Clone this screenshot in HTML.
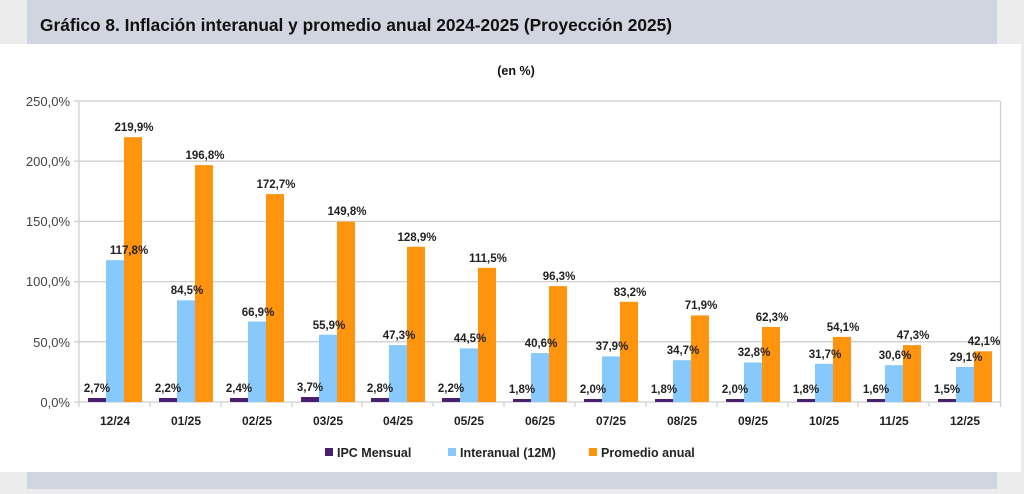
<!DOCTYPE html>
<html><head><meta charset="utf-8"><style>
html,body{margin:0;padding:0;background:#ececec;}
body{width:1024px;height:489px;position:relative;overflow:hidden;font-family:"Liberation Sans",Arial,sans-serif;}
</style></head><body>
<svg width="1024" height="489" viewBox="0 0 1024 489" xmlns="http://www.w3.org/2000/svg" font-family="Liberation Sans, Arial, sans-serif">
<rect x="0" y="0" width="1024" height="489" fill="#ececec"/>
<rect x="27" y="0" width="970" height="44" fill="#d1d5e0"/>
<rect x="0" y="44" width="1021" height="428" fill="#ffffff"/>
<rect x="27" y="472" width="970" height="17" fill="#d1d5e0"/>
<text x="40" y="31" font-size="17.5" font-weight="bold" fill="#111" textLength="632" lengthAdjust="spacingAndGlyphs">Gráfico 8. Inflación interanual  y promedio anual 2024-2025 (Proyección 2025)</text>
<text x="516" y="75" font-size="12.5" font-weight="bold" fill="#111" text-anchor="middle">(en %)</text>
<g stroke="#cfcfcf" stroke-width="1.3">
<line x1="74" y1="101" x2="1000" y2="101"/>
<line x1="74" y1="161.2" x2="1000" y2="161.2"/>
<line x1="74" y1="221.4" x2="1000" y2="221.4"/>
<line x1="74" y1="281.6" x2="1000" y2="281.6"/>
<line x1="74" y1="341.8" x2="1000" y2="341.8"/>
<line x1="74" y1="402" x2="1000" y2="402"/>
<line x1="79" y1="101" x2="79" y2="407"/>
<line x1="1000.5" y1="101" x2="1000.5" y2="407"/>
<line x1="150" y1="402" x2="150" y2="407"/><line x1="221" y1="402" x2="221" y2="407"/><line x1="292" y1="402" x2="292" y2="407"/><line x1="362" y1="402" x2="362" y2="407"/><line x1="433" y1="402" x2="433" y2="407"/><line x1="504" y1="402" x2="504" y2="407"/><line x1="575" y1="402" x2="575" y2="407"/><line x1="646" y1="402" x2="646" y2="407"/><line x1="717" y1="402" x2="717" y2="407"/><line x1="788" y1="402" x2="788" y2="407"/><line x1="858" y1="402" x2="858" y2="407"/><line x1="929" y1="402" x2="929" y2="407"/>
</g>
<g font-size="13" fill="#444" text-anchor="end">
<text x="70" y="106">250,0%</text><text x="70" y="166">200,0%</text><text x="70" y="226">150,0%</text><text x="70" y="286">100,0%</text><text x="70" y="347">50,0%</text><text x="70" y="407">0,0%</text>
</g>
<g fill="#4b1f6f">
<rect x="88" y="398" width="18" height="4"/><rect x="159" y="398" width="18" height="4"/><rect x="230" y="398" width="18" height="4"/><rect x="301" y="397" width="18" height="5"/><rect x="371" y="398" width="18" height="4"/><rect x="442" y="398" width="18" height="4"/><rect x="513" y="399" width="18" height="3"/><rect x="584" y="399" width="18" height="3"/><rect x="655" y="399" width="18" height="3"/><rect x="726" y="399" width="18" height="3"/><rect x="797" y="399" width="18" height="3"/><rect x="867" y="399" width="18" height="3"/><rect x="938" y="399" width="18" height="3"/>
</g>
<g fill="#87c9fc">
<rect x="106" y="260.2" width="18" height="141.8"/><rect x="177" y="300.3" width="18" height="101.7"/><rect x="248" y="321.5" width="18" height="80.5"/><rect x="319" y="334.7" width="18" height="67.3"/><rect x="389" y="345.1" width="18" height="56.9"/><rect x="460" y="348.4" width="18" height="53.6"/><rect x="531" y="353.1" width="18" height="48.9"/><rect x="602" y="356.4" width="18" height="45.6"/><rect x="673" y="360.2" width="18" height="41.8"/><rect x="744" y="362.5" width="18" height="39.5"/><rect x="815" y="363.8" width="18" height="38.2"/><rect x="885" y="365.2" width="18" height="36.8"/><rect x="956" y="367" width="18" height="35"/>
</g>
<g fill="#ff940f">
<rect x="124" y="137.2" width="18" height="264.8"/><rect x="195" y="165.1" width="18" height="236.9"/><rect x="266" y="194.1" width="18" height="207.9"/><rect x="337" y="221.6" width="18" height="180.4"/><rect x="407" y="246.8" width="18" height="155.2"/><rect x="478" y="267.8" width="18" height="134.2"/><rect x="549" y="286.1" width="18" height="115.9"/><rect x="620" y="301.8" width="18" height="100.2"/><rect x="691" y="315.4" width="18" height="86.6"/><rect x="762" y="327" width="18" height="75"/><rect x="833" y="336.9" width="18" height="65.1"/><rect x="903" y="345.1" width="18" height="56.9"/><rect x="974" y="351.3" width="18" height="50.7"/>
</g>
<g font-size="11.5" font-weight="bold" fill="#222" text-anchor="middle">
<text x="97" y="392">2,7%</text><text x="168" y="392">2,2%</text><text x="239" y="392">2,4%</text><text x="310" y="391">3,7%</text><text x="380" y="392">2,8%</text><text x="451" y="392">2,2%</text><text x="522" y="393">1,8%</text><text x="593" y="393">2,0%</text><text x="664" y="393">1,8%</text><text x="735" y="393">2,0%</text><text x="806" y="393">1,8%</text><text x="876" y="393">1,6%</text><text x="947" y="393">1,5%</text>
<text x="129" y="254">117,8%</text><text x="187" y="294">84,5%</text><text x="258" y="316">66,9%</text><text x="329" y="329">55,9%</text><text x="399" y="339">47,3%</text><text x="470" y="342">44,5%</text><text x="541" y="347">40,6%</text><text x="612" y="350">37,9%</text><text x="683" y="354">34,7%</text><text x="754" y="356">32,8%</text><text x="825" y="358">31,7%</text><text x="895" y="359">30,6%</text><text x="966" y="361">29,1%</text>
<text x="134" y="131">219,9%</text><text x="205" y="159">196,8%</text><text x="276" y="188">172,7%</text><text x="347" y="215">149,8%</text><text x="417" y="241">128,9%</text><text x="488" y="262">111,5%</text><text x="559" y="280">96,3%</text><text x="630" y="296">83,2%</text><text x="701" y="309">71,9%</text><text x="772" y="321">62,3%</text><text x="843" y="331">54,1%</text><text x="913" y="339">47,3%</text><text x="984" y="345">42,1%</text>
</g>
<g font-size="12" font-weight="bold" fill="#222" text-anchor="middle">
<text x="115" y="425">12/24</text><text x="186" y="425">01/25</text><text x="257" y="425">02/25</text><text x="328" y="425">03/25</text><text x="398" y="425">04/25</text><text x="469" y="425">05/25</text><text x="540" y="425">06/25</text><text x="611" y="425">07/25</text><text x="682" y="425">08/25</text><text x="753" y="425">09/25</text><text x="824" y="425">10/25</text><text x="894" y="425">11/25</text><text x="965" y="425">12/25</text>
</g>
<rect x="325" y="448" width="8" height="8" fill="#4b1f6f"/>
<rect x="448" y="448" width="8" height="8" fill="#87c9fc"/>
<rect x="589" y="448" width="8" height="8" fill="#ff940f"/>
<g font-size="12.5" font-weight="bold" fill="#222">
<text x="337" y="457">IPC Mensual</text><text x="460" y="457">Interanual (12M)</text><text x="601" y="457">Promedio anual</text>
</g>
</svg>
</body></html>
